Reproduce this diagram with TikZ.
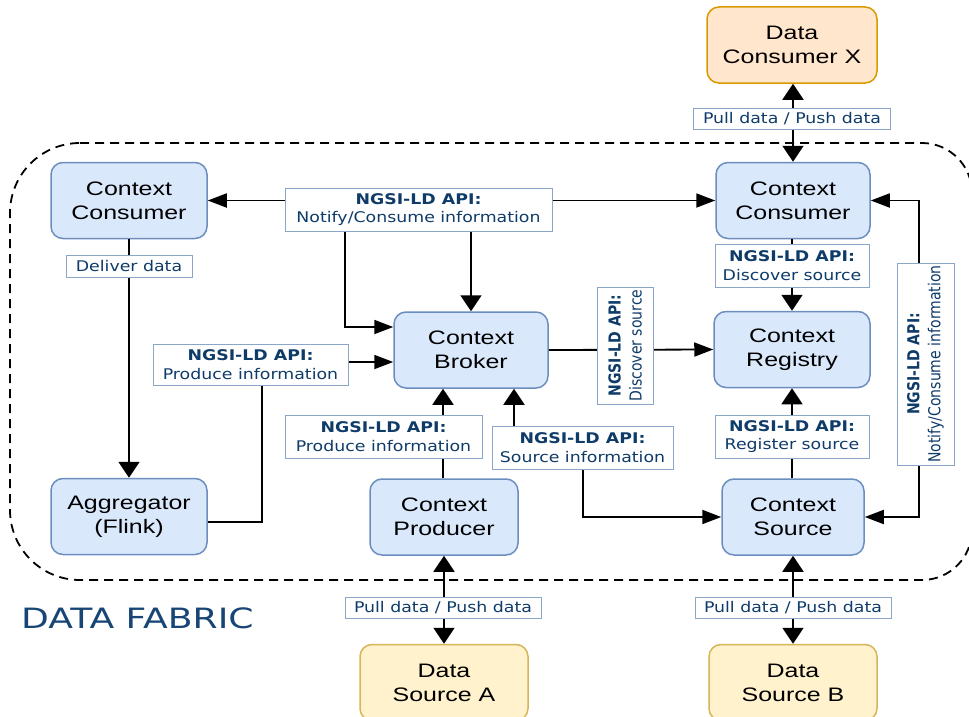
\documentclass[tikz,border=0pt]{standalone}
\usepackage{fontspec}
\usetikzlibrary{arrows.meta}
\newfontfamily\boxfont[FakeStretch=1.28]{Liberation Sans}
\newfontfamily\lblfont[FakeStretch=1.18]{DejaVu Sans}
\newfontfamily\rotfont[FakeStretch=0.85]{DejaVu Sans}
\newfontfamily\fabfont[FakeStretch=1.29]{DejaVu Sans}
\definecolor{boxblue}{HTML}{DAE8FC}
\definecolor{boxblueline}{HTML}{6C8EBF}
\definecolor{boxorange}{HTML}{FFE6CC}
\definecolor{boxorangeline}{HTML}{D79B00}
\definecolor{boxyellow}{HTML}{FFF2CC}
\definecolor{boxyellowline}{HTML}{D6B656}
\definecolor{lbltext}{HTML}{0F3B69}
\definecolor{lblline}{HTML}{8AA6C8}
\definecolor{fabtext}{HTML}{174676}
\tikzset{
  harr/.tip={Triangle[length=19pt,width=14pt]},
  varr/.tip={Triangle[length=16pt,width=21pt]},
  conn/.style={line width=1.8pt, draw=black},
  basebox/.style={rectangle, rounded corners=12pt, line width=1.5pt, minimum height=76pt,
    align=center, inner sep=0pt, text=black, font=\boxfont\fontsize{19.5}{24}\selectfont},
  bluebox/.style={basebox, draw=boxblueline, fill=boxblue},
  orangebox/.style={basebox, draw=boxorangeline, fill=boxorange},
  yellowbox/.style={basebox, draw=boxyellowline, fill=boxyellow},
  lbl/.style={rectangle, draw=lblline, fill=white, line width=1pt, align=center, inner sep=0pt,
    text=lbltext, font=\lblfont\fontsize{14.7}{18.3}\selectfont},
  rlbl/.style={lbl, rotate=90, font=\rotfont\fontsize{16.5}{21}\selectfont},
  fabric/.style={line width=1.8pt, dash pattern=on 9pt off 6pt}
}
\begin{document}
\begin{tikzpicture}[x=1pt, y=-1pt]
\useasboundingbox (0,0) rectangle (969,717);
\fill[white] (0,0) rectangle (969,717);

% data fabric boundary
\draw[fabric] (80,143) -- (922,143) .. controls (949.6,143) and (972,165.4) .. (972,193)
  -- (972,530) .. controls (972,557.6) and (949.6,580) .. (922,580)
  -- (80,580) .. controls (41.3,580) and (10,548.7) .. (10,510)
  -- (10,213) .. controls (10,174.3) and (41.3,143) .. (80,143) -- cycle;
\node[text=fabtext, font=\fabfont\fontsize{28}{32}\selectfont, anchor=base west, inner sep=0pt] (fab) at (21,628) {DATA FABRIC};

% boxes
\node[orangebox, minimum width=170pt] (dcx) at (792,45) {Data\\Consumer X};
\node[bluebox, minimum width=154pt] (rcons) at (793,200.5) {Context\\Consumer};
\node[bluebox, minimum width=156pt] (lcons) at (129,200.5) {Context\\Consumer};
\node[bluebox, minimum width=154pt] (broker) at (471,350) {Context\\Broker};
\node[bluebox, minimum width=156pt] (registry) at (792,349.5) {Context\\Registry};
\node[bluebox, minimum width=156pt] (agg) at (129,516.5) {Aggregator\\(Flink)};
\node[bluebox, minimum width=148pt] (prod) at (444,517) {Context\\Producer};
\node[bluebox, minimum width=142pt] (src) at (793,517) {Context\\Source};
\node[yellowbox, minimum width=168pt] (dsa) at (444,682.5) {Data\\Source A};
\node[yellowbox, minimum width=168pt] (dsb) at (793,682.5) {Data\\Source B};

% helper coordinates
\coordinate (j1) at (345,231);
\coordinate (k1) at (262,362);
\coordinate (s1) at (514,447);
\coordinate (s2) at (583,447);
\coordinate (r1) at (919,360);

% connectors
\draw[conn, harr-harr] (lcons.east) -- (rcons.west);
\draw[conn, -harr] (j1) |- ([yshift=23pt]broker.west);
\draw[conn, -varr] (broker.north |- j1) -- (broker.north);
\draw[conn, varr-varr] (dcx.south -| rcons.north) -- (rcons.north);
\draw[conn, -varr] (registry.north |- rcons.south) -- (registry.north);
\draw[conn, -harr] (broker.east) -- (registry.west);
\draw[conn, -varr] (lcons.south) -- (agg.north);
\draw[conn, -harr] ([yshift=-5.5pt]agg.east) -| (k1) -- (broker.west |- k1);
\draw[conn, -varr] (prod.north -| 443,0) -- (broker.south -| 443,0);
\draw[conn, varr-harr] (broker.south -| s1) -- (s1) -- (s2) |- (src.west);
\draw[conn, -varr] (registry.south |- src.north) -- (registry.south);
\draw[conn, harr-harr] (rcons.east) -| (r1) |- (src.east);
\draw[conn, varr-varr] (prod.south -| dsa.north) -- (dsa.north);
\draw[conn, varr-varr] (src.south -| dsb.north) -- (dsb.north);

% labels
\node[lbl, minimum width=197pt, minimum height=21pt] (l1) at (792,118.5) {Pull data / Push data};
\node[lbl, minimum width=267pt, minimum height=43pt] (l2) at (418.5,209.5) {{\bfseries NGSI-LD API:}\\Notify/Consume information};
\node[lbl, minimum width=126pt, minimum height=22pt] (l3) at (129,266) {Deliver data};
\node[lbl, minimum width=154pt, minimum height=43pt] (l4) at (792,265.5) {{\bfseries NGSI-LD API:}\\Discover source};
\node[rlbl, minimum width=117pt, minimum height=56pt] (l5) at (625,345.5) {{\bfseries NGSI-LD API:}\\Discover source};
\node[lbl, minimum width=154pt, minimum height=43pt] (l6) at (792,436.5) {{\bfseries NGSI-LD API:}\\Register source};
\node[rlbl, minimum width=202pt, minimum height=57pt] (l7) at (925.5,364) {{\bfseries NGSI-LD API:}\\Notify/Consume information};
\node[lbl, minimum width=195pt, minimum height=41pt] (l8) at (250.5,364.5) {{\bfseries NGSI-LD API:}\\Produce information};
\node[lbl, minimum width=197pt, minimum height=43pt] (l9) at (383.5,436.5) {{\bfseries NGSI-LD API:}\\Produce information};
\node[lbl, minimum width=181pt, minimum height=43pt] (l10) at (582.5,447.5) {{\bfseries NGSI-LD API:}\\Source information};
\node[lbl, minimum width=196pt, minimum height=21pt] (l11) at (443,607.5) {Pull data / Push data};
\node[lbl, minimum width=196pt, minimum height=21pt] (l12) at (793,607.5) {Pull data / Push data};
\end{tikzpicture}
\end{document}
